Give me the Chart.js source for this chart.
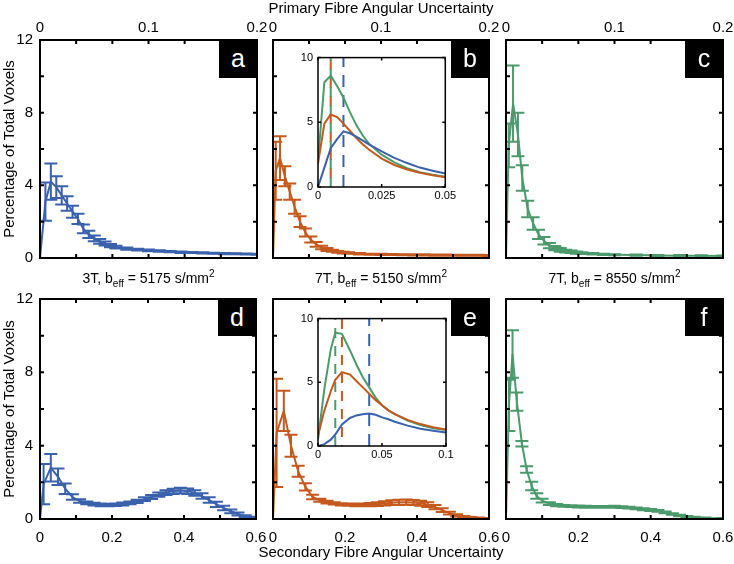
<!DOCTYPE html>
<html>
<head>
<meta charset="utf-8">
<script src="https://cdn.jsdelivr.net/npm/chart.js@4.4.1/dist/chart.umd.min.js"></script>
<style>
  html, body { margin: 0; padding: 0; background: #fff; overflow: hidden; }
  #fig { position: relative; width: 734px; height: 564px; overflow: hidden; font-family: 'Liberation Sans', Arial, Helvetica, sans-serif; }
  #fig canvas { position: absolute; }
  .txt { position: absolute; white-space: nowrap; text-align: center; color: #000; }
  .txt sub { font-size: 10px; vertical-align: -4px; }
  .txt sup { font-size: 10px; vertical-align: 6px; }
  .tag { position: absolute; width: 38px; height: 38px; background: #000; color: #fff; font-size: 25px; line-height: 36px; text-align: center; }
</style>
</head>
<body>
<div id="fig">
  <canvas id="pa" width="282" height="282" style="left:0px;top:8px"></canvas>
  <canvas id="pb" width="281" height="282" style="left:233px;top:8px"></canvas>
  <canvas id="pc" width="282" height="282" style="left:466px;top:8px"></canvas>
  <canvas id="pd" width="281" height="284" style="left:0px;top:267px"></canvas>
  <canvas id="pe" width="281" height="284" style="left:233px;top:267px"></canvas>
  <canvas id="pf" width="282" height="284" style="left:466px;top:267px"></canvas>
  <canvas id="ib" width="168" height="163" style="left:290px;top:46px"></canvas>
  <canvas id="ie" width="168" height="161" style="left:290px;top:307px"></canvas>

  <div class="txt" style="left:181px;width:400px;top:-1px;font-size:15px">Primary Fibre Angular Uncertainty</div>
  <div class="txt" style="left:0px;width:297px;top:268px;font-size:14px">3T, b<sub>eff</sub> = 5175 s/mm<sup>2</sup></div>
  <div class="txt" style="left:233px;width:296px;top:268px;font-size:14px">7T, b<sub>eff</sub> = 5150 s/mm<sup>2</sup></div>
  <div class="txt" style="left:466px;width:297px;top:268px;font-size:14px">7T, b<sub>eff</sub> = 8550 s/mm<sup>2</sup></div>
  <div class="txt" style="left:181px;width:400px;top:543px;font-size:15px">Secondary Fibre Angular Uncertainty</div>

  <div class="tag" style="left:219px;top:40px">a</div>
  <div class="tag" style="left:451px;top:40px">b</div>
  <div class="tag" style="left:685px;top:40px">c</div>
  <div class="tag" style="left:218px;top:299px;height:37px">d</div>
  <div class="tag" style="left:451px;top:299px;height:37px">e</div>
  <div class="tag" style="left:685px;top:299px;height:37px">f</div>
</div>

<script>
// colours
const BLUE = '#3a62ac';
const ORANGE = '#c5591d';
const GREEN = '#4b9a6c';

// axis ticks
const yTicks = [0, 4, 8, 12];
const yMarks = [0, 2, 4, 6, 8, 10, 12];
const topTicks = [0, 0.1, 0.2];
const topMarks = [0, 0.0333, 0.0667, 0.1, 0.1333, 0.1667, 0.2];
const bottomTicks = [0, 0.2, 0.4, 0.6];
const bottomMarks = [0, 0.1, 0.2, 0.3, 0.4, 0.5, 0.6];

// a: 3T primary
const aX = [0, 0.005, 0.01, 0.015, 0.02, 0.025, 0.03, 0.035, 0.04, 0.045, 0.05, 0.055, 0.06, 0.065, 0.07, 0.08, 0.09, 0.1, 0.11, 0.12, 0.13, 0.14, 0.15, 0.16, 0.17, 0.18, 0.19, 0.2];
const aY = [0, 3.1, 4.2, 3.9, 3.45, 3.0, 2.55, 2.15, 1.6, 1.3, 1.08, 0.92, 0.8, 0.68, 0.6, 0.52, 0.46, 0.42, 0.38, 0.35, 0.32, 0.3, 0.28, 0.26, 0.24, 0.23, 0.22, 0.21];
const aErr = [0, 1.05, 1.0, 0.6, 0.5, 0.4, 0.33, 0.28, 0.24, 0.2, 0.16, 0.13, 0.11, 0.09, 0.08, 0.06, 0.05, 0.05, 0.04, 0.04, 0.04, 0.03, 0.03, 0.03, 0.03, 0.03, 0.03, 0.03];

// b: 7T 5150 primary
const bX = [0, 0.0025, 0.0065, 0.011, 0.0155, 0.02, 0.025, 0.03, 0.035, 0.04, 0.045, 0.05, 0.055, 0.06, 0.065, 0.07, 0.08, 0.09, 0.1, 0.11, 0.12, 0.13, 0.14, 0.15, 0.16, 0.17, 0.18, 0.19, 0.2];
const bY = [0, 4.8, 5.5, 4.5, 3.65, 2.82, 2.0, 1.4, 1.02, 0.75, 0.58, 0.47, 0.4, 0.34, 0.3, 0.27, 0.23, 0.21, 0.2, 0.19, 0.18, 0.17, 0.17, 0.16, 0.16, 0.15, 0.15, 0.15, 0.14];
const bErr = [0, 1.6, 1.2, 0.55, 0.45, 0.38, 0.3, 0.22, 0.17, 0.13, 0.1, 0.08, 0.06, 0.05, 0.05, 0.04, 0.04, 0.03, 0.03, 0.03, 0.03, 0.03, 0.03, 0.03, 0.03, 0.03, 0.03, 0.03, 0.03];

// c: 7T 8550 primary
const cX = [0, 0.0025, 0.0065, 0.011, 0.015, 0.02, 0.025, 0.03, 0.035, 0.04, 0.045, 0.05, 0.055, 0.06, 0.065, 0.07, 0.08, 0.09, 0.1, 0.12, 0.14, 0.16, 0.18, 0.2];
const cY = [0, 6.2, 8.5, 6.8, 4.4, 2.7, 1.9, 1.3, 0.95, 0.68, 0.54, 0.45, 0.38, 0.34, 0.3, 0.27, 0.23, 0.2, 0.18, 0.16, 0.14, 0.13, 0.12, 0.11];
const cErr = [0, 1.2, 2.1, 1.2, 0.7, 0.45, 0.35, 0.25, 0.2, 0.15, 0.12, 0.1, 0.08, 0.07, 0.06, 0.05, 0.04, 0.04, 0.03, 0.03, 0.03, 0.03, 0.03, 0.03];

// d: 3T secondary
const dX = [0, 0.01, 0.03, 0.05, 0.07, 0.09, 0.11, 0.13, 0.15, 0.17, 0.19, 0.21, 0.23, 0.25, 0.27, 0.29, 0.31, 0.33, 0.35, 0.37, 0.39, 0.41, 0.43, 0.45, 0.47, 0.49, 0.51, 0.53, 0.55, 0.57, 0.59];
const dY = [0, 1.9, 2.8, 2.3, 1.65, 1.2, 0.98, 0.88, 0.81, 0.77, 0.76, 0.78, 0.82, 0.88, 0.96, 1.08, 1.2, 1.33, 1.44, 1.51, 1.55, 1.52, 1.42, 1.25, 1.03, 0.8, 0.6, 0.42, 0.27, 0.15, 0.07];
const dErr = [0, 1.1, 0.75, 0.45, 0.28, 0.15, 0.1, 0.08, 0.07, 0.07, 0.07, 0.07, 0.08, 0.08, 0.09, 0.1, 0.11, 0.12, 0.13, 0.14, 0.15, 0.15, 0.15, 0.15, 0.15, 0.14, 0.12, 0.1, 0.08, 0.06, 0.05];

// e: 7T 5150 secondary
const eX = [0, 0.01, 0.03, 0.05, 0.07, 0.09, 0.11, 0.13, 0.15, 0.17, 0.19, 0.21, 0.23, 0.25, 0.27, 0.29, 0.31, 0.33, 0.35, 0.37, 0.39, 0.41, 0.43, 0.45, 0.47, 0.49, 0.51, 0.53, 0.55, 0.57, 0.59];
const eY = [0, 4.7, 5.9, 4.0, 2.6, 1.75, 1.2, 1.02, 0.92, 0.85, 0.8, 0.78, 0.77, 0.77, 0.78, 0.81, 0.85, 0.89, 0.91, 0.92, 0.9, 0.86, 0.78, 0.65, 0.48, 0.32, 0.2, 0.12, 0.07, 0.05, 0.03];
const eErr = [0, 2.95, 1.1, 0.6, 0.3, 0.2, 0.12, 0.08, 0.07, 0.06, 0.06, 0.06, 0.07, 0.08, 0.09, 0.1, 0.12, 0.13, 0.14, 0.14, 0.14, 0.14, 0.13, 0.12, 0.1, 0.08, 0.06, 0.05, 0.04, 0.03, 0.03];

// f: 7T 8550 secondary
const fX = [0, 0.008, 0.018, 0.03, 0.044, 0.057, 0.071, 0.085, 0.1, 0.12, 0.14, 0.16, 0.18, 0.2, 0.22, 0.24, 0.26, 0.28, 0.3, 0.32, 0.34, 0.36, 0.38, 0.4, 0.42, 0.44, 0.46, 0.48, 0.5, 0.52, 0.55, 0.6];
const fY = [0, 6.2, 9.0, 6.4, 4.1, 2.7, 1.8, 1.25, 1.0, 0.84, 0.76, 0.72, 0.7, 0.68, 0.67, 0.66, 0.66, 0.66, 0.67, 0.65, 0.62, 0.58, 0.53, 0.49, 0.44, 0.36, 0.27, 0.19, 0.13, 0.09, 0.06, 0.04];
const fErr = [0, 1.4, 1.3, 0.5, 0.15, 0.18, 0.23, 0.15, 0.1, 0.08, 0.06, 0.05, 0.05, 0.05, 0.05, 0.05, 0.05, 0.05, 0.05, 0.05, 0.05, 0.05, 0.05, 0.05, 0.05, 0.05, 0.04, 0.04, 0.03, 0.03, 0.02, 0.02];

// inset b (primary, zoomed)
const ibX = [0, 0.0025, 0.005, 0.0075, 0.01, 0.0125, 0.015, 0.0175, 0.02, 0.025, 0.03, 0.035, 0.04, 0.045, 0.05];
const ibBlue = [0, 1.5, 3.0, 3.7, 4.3, 4.15, 3.9, 3.6, 3.3, 2.75, 2.25, 1.85, 1.5, 1.25, 1.05];
const ibOrange = [1.8, 4.9, 5.6, 5.4, 4.9, 4.35, 3.8, 3.3, 2.9, 2.2, 1.7, 1.35, 1.1, 0.9, 0.75];
const ibGreen = [2.0, 8.1, 8.6, 7.8, 6.9, 5.8, 4.8, 4.0, 3.35, 2.5, 1.9, 1.45, 1.15, 0.95, 0.8];
const ibPeaks = [0.01, 0.005, 0.005]; // blue, orange, green

// inset e (secondary, zoomed)
const ieX = [0, 0.005, 0.01, 0.0135, 0.0187, 0.025, 0.03, 0.035, 0.04, 0.045, 0.05, 0.055, 0.06, 0.07, 0.08, 0.09, 0.1];
const ieBlue = [0, 0.15, 0.5, 0.9, 1.7, 2.2, 2.4, 2.5, 2.55, 2.45, 2.25, 2.1, 1.9, 1.6, 1.35, 1.2, 1.05];
const ieOrange = [0.8, 2.8, 4.3, 5.2, 5.8, 5.6, 5.1, 4.6, 4.1, 3.6, 3.2, 2.8, 2.5, 2.05, 1.72, 1.47, 1.3];
const ieGreen = [0.5, 4.5, 7.6, 8.9, 8.8, 7.5, 6.4, 5.4, 4.6, 3.8, 3.2, 2.8, 2.5, 2.0, 1.65, 1.4, 1.25];
const iePeaks = [0.04, 0.0187, 0.0135]; // blue, orange, green

Chart.defaults.font.family = "'Liberation Sans', Arial, Helvetica, sans-serif";
Chart.defaults.color = '#000';

// error bars drawn from each dataset's err array
const errorBars = {
    id: 'errorBars',
    afterDatasetsDraw(chart) {
        const { ctx, chartArea: area, scales: { x, y } } = chart;
        chart.data.datasets.forEach(ds => {
            if (!ds.err) return;
            ctx.save();
            ctx.beginPath();
            ctx.rect(area.left, area.top, area.width, area.height);
            ctx.clip();
            ctx.strokeStyle = ds.borderColor;
            ctx.lineWidth = 2;
            ctx.beginPath();
            ds.data.forEach((p, i) => {
                const e = ds.err[i];
                if (!e) return;
                const px = x.getPixelForValue(p.x);
                const lo = y.getPixelForValue(p.y - e);
                const hi = y.getPixelForValue(p.y + e);
                ctx.moveTo(px, lo); ctx.lineTo(px, hi);
                ctx.moveTo(px - 6.5, lo); ctx.lineTo(px + 6.5, lo);
                ctx.moveTo(px - 6.5, hi); ctx.lineTo(px + 6.5, hi);
            });
            ctx.stroke();
            ctx.restore();
        });
    }
};

// white plot background, box frame and inward tick marks
const frame = {
    id: 'frame',
    beforeDatasetsDraw(chart) {
        const { ctx, chartArea: a } = chart;
        ctx.save();
        ctx.fillStyle = '#fff';
        ctx.fillRect(a.left, a.top, a.width, a.height);
        ctx.restore();
    },
    afterDatasetsDraw(chart, args, opts) {
        const { ctx, chartArea: a, scales: { x, y } } = chart;
        const len = opts.len || 4;
        ctx.save();
        ctx.strokeStyle = '#000';
        ctx.lineWidth = opts.width || 2;
        ctx.beginPath();
        (opts.xMarks || []).forEach(v => {
            const px = x.getPixelForValue(v);
            ctx.moveTo(px, a.top); ctx.lineTo(px, a.top + len);
            ctx.moveTo(px, a.bottom); ctx.lineTo(px, a.bottom - len);
        });
        (opts.yMarks || []).forEach(v => {
            const py = y.getPixelForValue(v);
            ctx.moveTo(a.left, py); ctx.lineTo(a.left + len, py);
            ctx.moveTo(a.right, py); ctx.lineTo(a.right - len, py);
        });
        ctx.stroke();
        ctx.strokeRect(a.left, a.top, a.width, a.height);
        ctx.restore();
    }
};

function renderPanel(id, xs, ys, errs, color, top, showY) {
    const padding = { left: 0, right: 25, top: top ? 0 : 32, bottom: top ? 32 : 0 };
    new Chart(document.getElementById(id), {
        type: 'line',
        data: {
            datasets: [{
                data: xs.map((x, i) => ({ x: x, y: ys[i] })),
                err: errs,
                borderColor: color,
                borderWidth: 2,
                pointRadius: 0,
                tension: 0
            }]
        },
        options: {
            responsive: false,
            animation: false,
            events: [],
            layout: { padding: padding },
            plugins: {
                legend: { display: false },
                tooltip: { enabled: false },
                frame: { xMarks: top ? topMarks : bottomMarks, yMarks: yMarks }
            },
            scales: {
                x: {
                    type: 'linear',
                    position: top ? 'top' : 'bottom',
                    min: 0,
                    max: top ? 0.2 : 0.6,
                    grid: { display: false, drawTicks: false },
                    border: { display: false },
                    ticks: { font: { size: 15 }, padding: top ? 3 : 10, maxRotation: 0, autoSkip: false, callback: v => String(v) },
                    afterBuildTicks: s => { s.ticks = (top ? topTicks : bottomTicks).map(v => ({ value: v })); },
                    afterFit: s => { s.height = 32; }
                },
                y: {
                    min: 0,
                    max: 12,
                    grid: { display: false, drawTicks: false },
                    border: { display: false },
                    ticks: { display: showY, font: { size: 15 }, padding: 7, callback: v => String(v) },
                    afterBuildTicks: s => { s.ticks = yTicks.map(v => ({ value: v })); },
                    afterFit: s => { s.width = 40; },
                    title: { display: showY, text: 'Percentage of Total Voxels', font: { size: 15 }, padding: { top: 1, bottom: 0 } }
                }
            }
        },
        plugins: [errorBars, frame]
    });
}

function renderInset(id, xs, blue, orange, green, peaks, xMax, xTicks) {
    const line = (vals, color) => ({
        data: xs.map((x, i) => ({ x: x, y: vals[i] })),
        borderColor: color, borderWidth: 2, pointRadius: 0, tension: 0
    });
    const dash = (v, color, pattern, offset) => ({
        data: [{ x: v, y: 0 }, { x: v, y: 10 }],
        borderColor: color, borderWidth: 2, pointRadius: 0,
        borderDash: pattern, borderDashOffset: offset || 0
    });
    new Chart(document.getElementById(id), {
        type: 'line',
        data: {
            datasets: [
                line(blue, BLUE),
                line(orange, ORANGE),
                line(green, GREEN),
                dash(peaks[2], GREEN, [10, 8], 0),
                dash(peaks[1], ORANGE, [10, 8], 9),
                dash(peaks[0], BLUE, [12, 8], 0)
            ]
        },
        options: {
            responsive: false,
            animation: false,
            events: [],
            layout: { padding: { left: 0, right: 12, top: 8, bottom: 6 } },
            plugins: {
                legend: { display: false },
                tooltip: { enabled: false },
                frame: { xMarks: xTicks, yMarks: [0, 5, 10], width: 1.5, len: 3 }
            },
            scales: {
                x: {
                    type: 'linear', min: 0, max: xMax,
                    grid: { display: false, drawTicks: false }, border: { display: false },
                    ticks: { font: { size: 11 }, padding: 2, maxRotation: 0, autoSkip: false, callback: v => String(v) },
                    afterBuildTicks: s => { s.ticks = xTicks.map(v => ({ value: v })); },
                    afterFit: s => { s.height = 16; }
                },
                y: {
                    min: 0, max: 10,
                    grid: { display: false, drawTicks: false }, border: { display: false },
                    ticks: { font: { size: 11 }, padding: 5, callback: v => String(v) },
                    afterBuildTicks: s => { s.ticks = [0, 5, 10].map(v => ({ value: v })); },
                    afterFit: s => { s.width = 28; }
                }
            }
        },
        plugins: [frame]
    });
}

renderPanel('pa', aX, aY, aErr, BLUE, true, true);
renderPanel('pb', bX, bY, bErr, ORANGE, true, false);
renderPanel('pc', cX, cY, cErr, GREEN, true, false);
renderPanel('pd', dX, dY, dErr, BLUE, false, true);
renderPanel('pe', eX, eY, eErr, ORANGE, false, false);
renderPanel('pf', fX, fY, fErr, GREEN, false, false);
renderInset('ib', ibX, ibBlue, ibOrange, ibGreen, ibPeaks, 0.05, [0, 0.025, 0.05]);
renderInset('ie', ieX, ieBlue, ieOrange, ieGreen, iePeaks, 0.1, [0, 0.05, 0.1]);
</script>
</body>
</html>
